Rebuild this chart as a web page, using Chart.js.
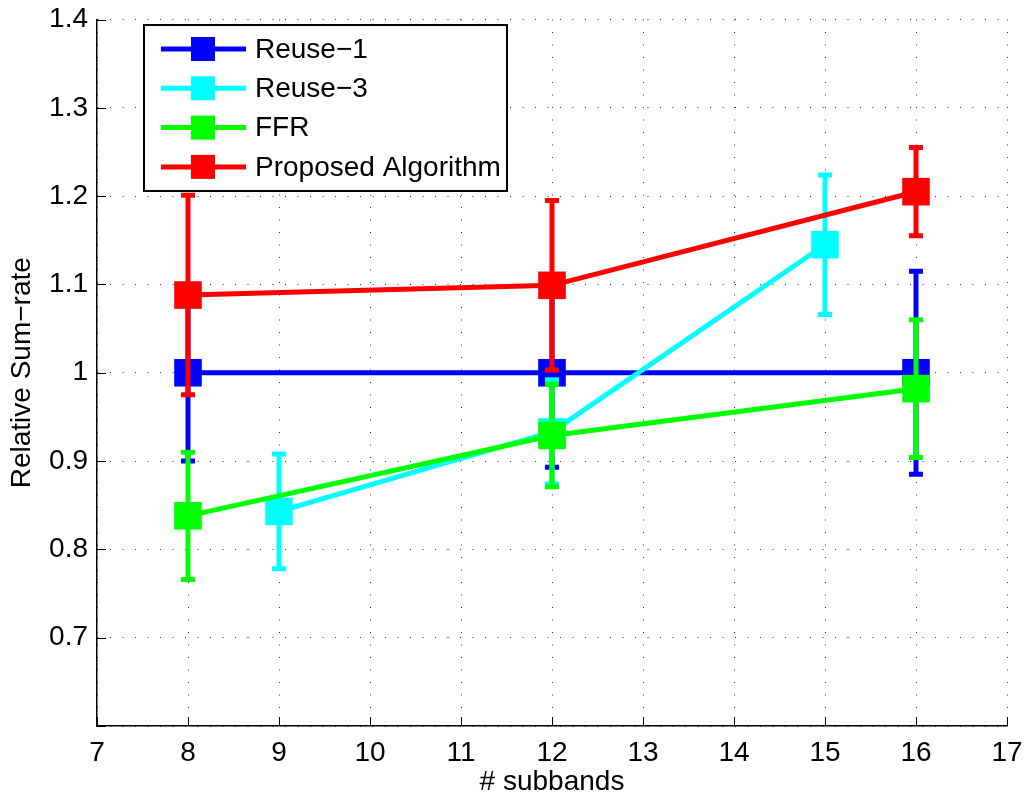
<!DOCTYPE html>
<html>
<head>
<meta charset="utf-8">
<script src="https://cdn.jsdelivr.net/npm/chart.js@4"></script>
<style>
  html, body { margin: 0; padding: 0; background: #ffffff; }
  #sumRate { display: block; }
</style>
</head>
<body>
<canvas id="sumRate" width="1027" height="796"></canvas>
<script>
// Relative sum-rate vs number of subbands (mean +/- error)
const seriesNames = ['Reuse\u22121', 'Reuse\u22123', 'FFR', 'Proposed Algorithm'];
const seriesColors = ['#0000ff', '#00ffff', '#00ff00', '#ff0000'];

const reuse1X = [8, 12, 16];
const reuse1Y = [1.0, 1.0, 1.0];
const reuse1Err = [0.1, 0.107, 0.115];

const reuse3X = [9, 12, 15];
const reuse3Y = [0.843, 0.933, 1.145];
const reuse3Err = [0.065, 0.059, 0.079];

const ffrX = [8, 12, 16];
const ffrY = [0.838, 0.929, 0.982];
const ffrErr = [0.072, 0.058, 0.078];

const propX = [8, 12, 16];
const propY = [1.088, 1.099, 1.205];
const propErr = [0.113, 0.096, 0.05];

const xTicks = [7, 8, 9, 10, 11, 12, 13, 14, 15, 16, 17];
const yTicks = [0.6, 0.7, 0.8, 0.9, 1.0, 1.1, 1.2, 1.3, 1.4];
const yTickLabels = ['', '0.7', '0.8', '0.9', '1', '1.1', '1.2', '1.3', '1.4'];

const allX = [reuse1X, reuse3X, ffrX, propX];
const allY = [reuse1Y, reuse3Y, ffrY, propY];
const allErr = [reuse1Err, reuse3Err, ffrErr, propErr];

const FONT = '"Liberation Sans", Arial, Helvetica, sans-serif';
const TEXT_SIZE = 28;

function points(xs, ys) {
    return xs.map(function(x, i) { return { x: x, y: ys[i] }; });
}

// error bars go under each series' own line, so later series cover earlier ones
const errorBars = {
    id: 'errorBars',
    beforeDatasetDraw: function(chart, args) {
        const i = args.index;
        const xs = chart.scales.x, ys = chart.scales.y;
        const ctx = chart.ctx;
        const cap = 7;
        ctx.save();
        ctx.strokeStyle = seriesColors[i];
        ctx.lineWidth = 5;
        ctx.lineCap = 'butt';
        allX[i].forEach(function(xv, k) {
            const px = xs.getPixelForValue(xv);
            const top = ys.getPixelForValue(allY[i][k] + allErr[i][k]);
            const bot = ys.getPixelForValue(allY[i][k] - allErr[i][k]);
            ctx.beginPath();
            ctx.moveTo(px, top);
            ctx.lineTo(px, bot);
            ctx.moveTo(px - cap, top);
            ctx.lineTo(px + cap, top);
            ctx.moveTo(px - cap, bot);
            ctx.lineTo(px + cap, bot);
            ctx.stroke();
        });
        ctx.restore();
    }
};

// inward tick marks on the left and bottom axes
const innerTicks = {
    id: 'innerTicks',
    beforeDatasetsDraw: function(chart) {
        const ctx = chart.ctx;
        const a = chart.chartArea;
        const len = 9;
        ctx.save();
        ctx.strokeStyle = '#000000';
        ctx.lineWidth = 1;
        ctx.beginPath();
        xTicks.forEach(function(v) {
            const px = Math.round(chart.scales.x.getPixelForValue(v)) + 0.5;
            ctx.moveTo(px, a.bottom);
            ctx.lineTo(px, a.bottom - len);
        });
        yTicks.forEach(function(v) {
            const py = Math.round(chart.scales.y.getPixelForValue(v)) + 0.5;
            ctx.moveTo(a.left, py);
            ctx.lineTo(a.left + len, py);
        });
        ctx.stroke();
        ctx.restore();
    }
};

// boxed legend in the upper left of the plot
const boxLegend = {
    id: 'boxLegend',
    afterDraw: function(chart) {
        const ctx = chart.ctx;
        const bx = 144, by = 25, bw = 363, bh = 166;
        ctx.save();
        ctx.fillStyle = '#ffffff';
        ctx.fillRect(bx, by, bw, bh);
        ctx.strokeStyle = '#000000';
        ctx.lineWidth = 2;
        ctx.strokeRect(bx, by, bw, bh);
        ctx.font = TEXT_SIZE + 'px ' + FONT;
        ctx.textBaseline = 'middle';
        seriesNames.forEach(function(name, i) {
            const cy = 49 + i * 39.3;
            ctx.strokeStyle = seriesColors[i];
            ctx.lineWidth = 5;
            ctx.beginPath();
            ctx.moveTo(161, cy);
            ctx.lineTo(246, cy);
            ctx.stroke();
            ctx.fillStyle = seriesColors[i];
            ctx.fillRect(203 - 12, cy - 12, 24, 24);
            ctx.fillStyle = '#000000';
            ctx.fillText(name, 255, cy + 1);
        });
        ctx.restore();
    }
};

const datasets = seriesNames.map(function(name, i) {
    return {
        label: name,
        data: points(allX[i], allY[i]),
        borderColor: seriesColors[i],
        backgroundColor: seriesColors[i],
        borderWidth: 5,
        pointStyle: 'rect',
        pointRadius: 19.5,
        pointBorderWidth: 0,
        pointBackgroundColor: seriesColors[i],
        tension: 0,
        clip: false,
        order: seriesNames.length - i
    };
});

const dottedGrid = {
    color: '#333333',
    lineWidth: 1,
    drawTicks: false,
    tickLength: 0
};

new Chart(document.getElementById('sumRate'), {
    type: 'line',
    data: { datasets: datasets },
    options: {
        responsive: false,
        animation: false,
        events: [],
        layout: { padding: { top: 19, right: 20, left: 0, bottom: 0 } },
        plugins: {
            legend: { display: false },
            tooltip: { enabled: false }
        },
        scales: {
            x: {
                type: 'linear',
                min: 7,
                max: 17,
                afterFit: function(scale) {
                    scale.height = 70;
                    scale.paddingLeft = 0;
                    scale.paddingRight = 0;
                },
                afterBuildTicks: function(scale) {
                    scale.ticks = xTicks.map(function(v) { return { value: v }; });
                },
                grid: dottedGrid,
                border: { display: true, color: '#000000', width: 1.5, dash: [1, 11.5] },
                ticks: {
                    color: '#000000',
                    padding: 10,
                    font: { family: FONT, size: TEXT_SIZE },
                    callback: function(v) { return String(v); }
                },
                title: {
                    display: true,
                    text: '# subbands',
                    color: '#000000',
                    font: { family: FONT, size: TEXT_SIZE },
                    padding: { top: 0, bottom: -3 }
                }
            },
            y: {
                type: 'linear',
                min: 0.6,
                max: 1.4,
                afterFit: function(scale) {
                    scale.width = 97;
                    scale.paddingTop = 0;
                    scale.paddingBottom = 0;
                },
                afterBuildTicks: function(scale) {
                    scale.ticks = yTicks.map(function(v) { return { value: v }; });
                },
                grid: dottedGrid,
                border: { display: true, color: '#000000', width: 1.5, dash: [1, 11.5] },
                ticks: {
                    color: '#000000',
                    padding: 9,
                    font: { family: FONT, size: TEXT_SIZE },
                    callback: function(v, idx) { return yTickLabels[idx]; }
                },
                title: {
                    display: true,
                    text: 'Relative Sum\u2212rate',
                    color: '#000000',
                    font: { family: FONT, size: TEXT_SIZE },
                    padding: { top: 5, bottom: 0 }
                }
            }
        }
    },
    plugins: [errorBars, innerTicks, boxLegend]
});
</script>
</body>
</html>
